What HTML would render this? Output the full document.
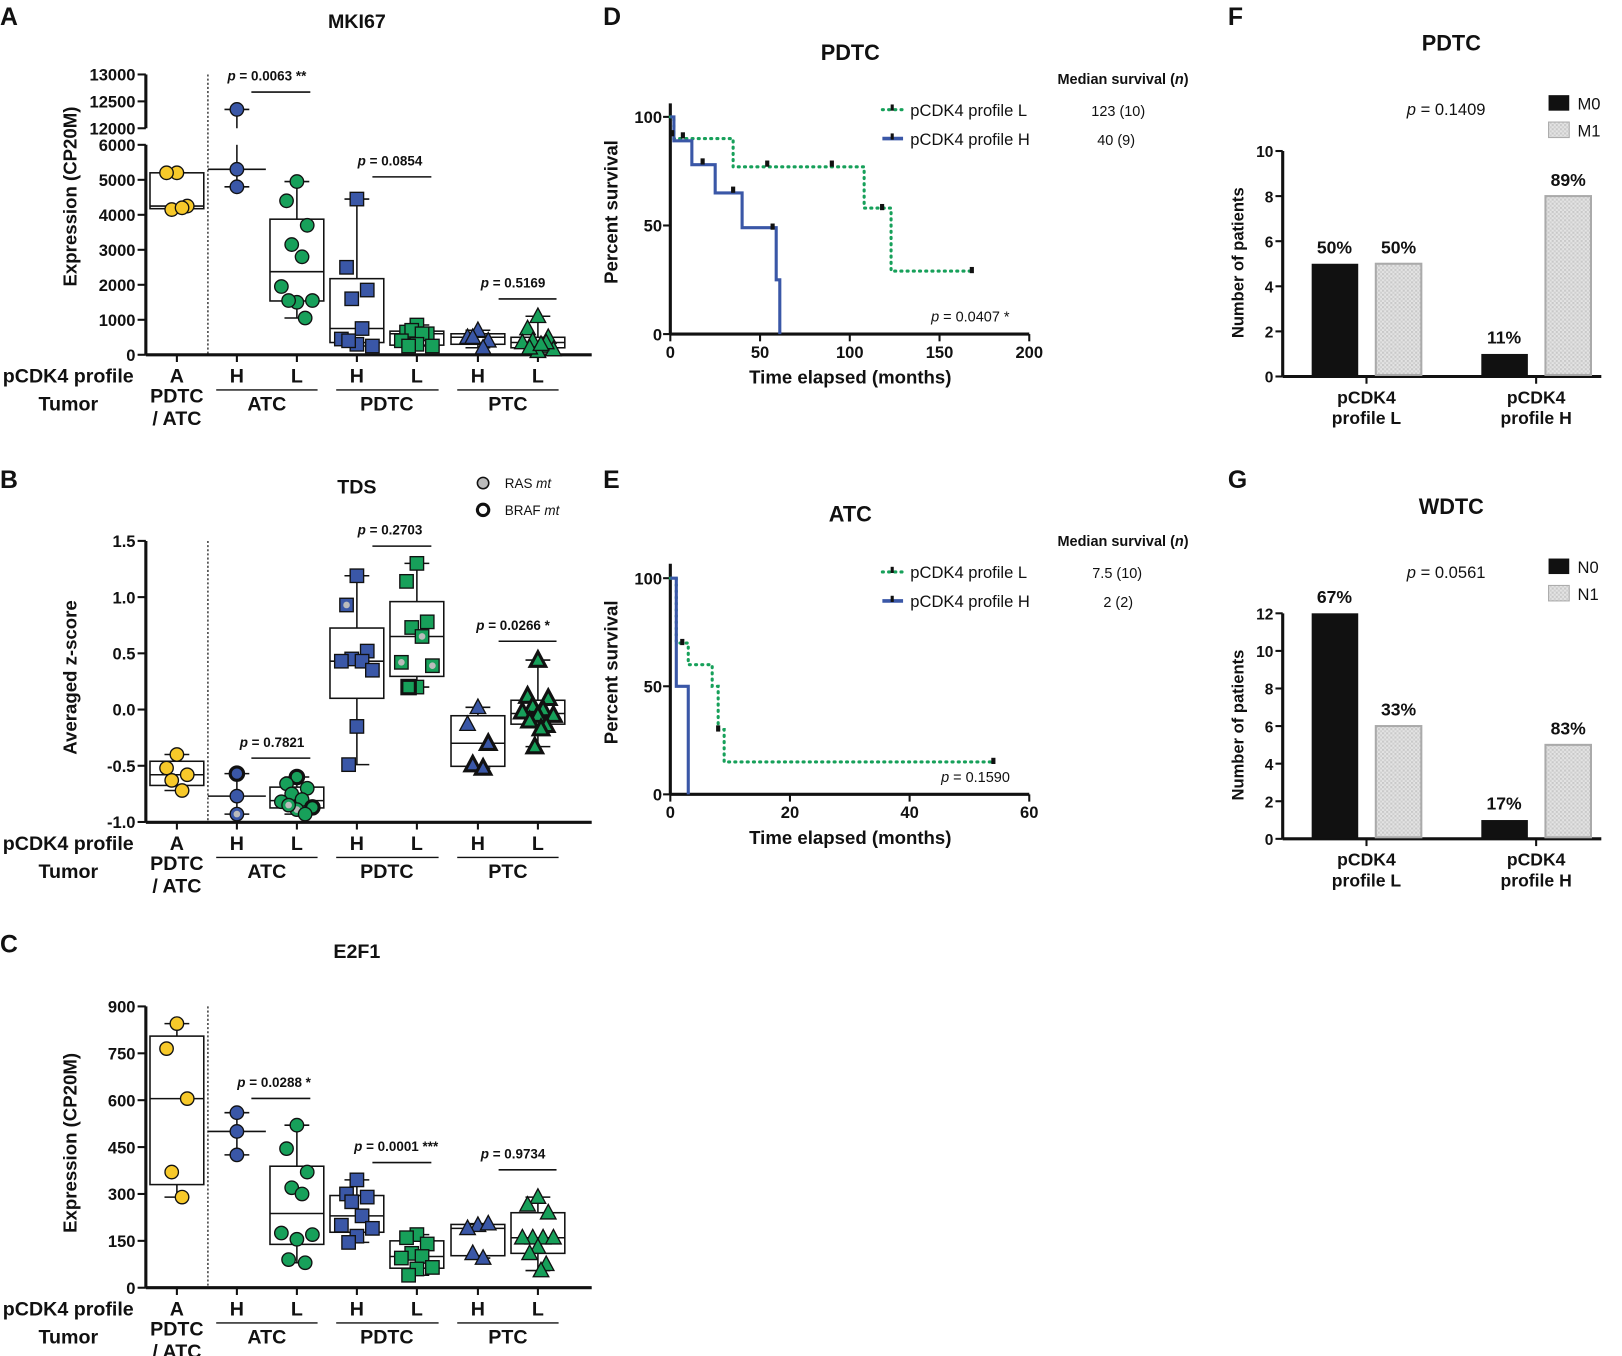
<!DOCTYPE html>
<html><head><meta charset="utf-8">
<style>
html,body{margin:0;padding:0;background:#fff;}
svg{display:block;font-family:"Liberation Sans",Arial,sans-serif;}
</style></head>
<body>
<svg id="fig" width="1622" height="1356" viewBox="0 0 1568 1311" preserveAspectRatio="none" xmlns="http://www.w3.org/2000/svg">
<defs>
<pattern id="hatch" width="4" height="4" patternUnits="userSpaceOnUse">
<rect width="4" height="4" fill="#e4e4e4"/><rect width="2" height="2" fill="#c8c8c8"/><rect x="2" y="2" width="2" height="2" fill="#cfcfcf"/>
</pattern>
</defs>
</svg>
<script>
// ---------- Data: box plots ----------
const groupLabels = ["A","H","L","H","L","H","L"];
const tumorLabels = ["ATC","PDTC","PTC"];
// MKI67
const mki_A = [5200,5200,4250,4150,4200];
const mki_ATC_H = [12350,5300,4800];
const mki_ATC_L = [4950,4400,3700,3150,2800,1950,1550,1500,1550,1050];
const mki_PDTC_H = [4450,2500,1850,1600,750,450,250,300,400];
const mki_PDTC_L = [850,650,600,700,600,400,250,300,250];
const mki_PTC_H = [700,500,400,500,200];
const mki_PTC_L = [1100,750,500,400,250,350,150,100,200,350,300];
const mki_ticksLow = [0,1000,2000,3000,4000,5000,6000];
const mki_ticksHigh = [12000,12500,13000];
// TDS
const tds_A = [-0.40,-0.52,-0.58,-0.63,-0.72];
const tds_ATC_H = [-0.57,-0.77,-0.93];
const tds_ATC_L = [-0.60,-0.66,-0.70,-0.75,-0.80,-0.82,-0.87,-0.89,-0.85,-0.93];
const tds_PDTC_H = [1.19,0.93,0.52,0.45,0.43,0.43,0.35,-0.15,-0.49];
const tds_PDTC_L = [1.30,1.14,0.78,0.73,0.65,0.42,0.39,0.20,0.20];
const tds_PTC_H = [0.02,-0.13,-0.30,-0.49,-0.52];
const tds_PTC_L = [0.44,0.12,0.10,0.03,0.0,-0.02,-0.05,-0.05,-0.10,-0.14,-0.17,-0.33];
const tds_mut_ATC_H = ["b","","r"];
const tds_mut_ATC_L = ["b","","","","","","b","r","r",""];
const tds_mut_PDTC_H = ["","r","","","","","","",""];
const tds_mut_PDTC_L = ["","","","","r","r","r","","b"];
const tds_mut_PTC_H = ["","","b","b","b"];
const tds_mut_PTC_L = ["b","b","b","b","b","b","b","b","b","b","b","b"];
const tds_ticks = [1.5,1.0,0.5,0.0,-0.5,-1.0];
// E2F1
const e2f_A = [845,765,605,370,290];
const e2f_ATC_H = [560,500,425];
const e2f_ATC_L = [520,445,370,320,300,175,170,155,90,80];
const e2f_PDTC_H = [345,300,290,275,230,200,190,165,145];
const e2f_PDTC_L = [170,160,140,110,100,95,65,60,40];
const e2f_PTC_H = [200,190,205,110,95];
const e2f_PTC_L = [290,265,240,160,160,160,160,130,110,75,55];
const e2f_ticks = [0,150,300,450,600,750,900];
// ---------- Data: survival ----------
const dL_t = [0,2,35,108,123]; const dL_s = [100,90,77,58,29]; const dL_end = 168;
const dL_ct = [7,54,90,118,168]; const dL_cs = [91,78,78,58,29];
const dH_t = [0,2,12,25,40,59,61]; const dH_s = [100,89,78,65,49,25,0]; const dH_end = 61;
const dH_ct = [1,18,35,57]; const dH_cs = [92,79,66,49];
const d_xticks = [0,50,100,150,200]; const d_yticks = [0,50,100];
const eL_t = [0,1,3,7,8,9]; const eL_s = [100,70,60,50,30,15]; const eL_end = 54;
const eL_ct = [2,8,54]; const eL_cs = [70,30,15];
const eH_t = [0,1,3]; const eH_s = [100,50,0]; const eH_end = 3;
const e_xticks = [0,20,40,60]; const e_yticks = [0,50,100];
// ---------- Data: bars ----------
const f_m0 = [5,1]; const f_m1 = [5,8]; const f_pct0 = ["50%","11%"]; const f_pct1 = ["50%","89%"];
const f_ticks = [0,2,4,6,8,10];
const g_n0 = [12,1]; const g_n1 = [6,5]; const g_pct0 = ["67%","17%"]; const g_pct1 = ["33%","83%"];
const g_ticks = [0,2,4,6,8,10,12];

// ---------- helpers ----------
const svg = document.getElementById('fig');
const NS = "http://www.w3.org/2000/svg";
function el(tag, attrs, parent, name, inter) {
  const e = document.createElementNS(NS, tag);
  for (const k in attrs) e.setAttribute(k, attrs[k]);
  
  
  (parent || svg).appendChild(e);
  return e;
}
function txt(x, y, s, size, opts, name) {
  opts = opts || {};
  const t = el('text', {x: x, y: y, 'font-size': size, 'text-anchor': opts.anchor || 'middle',
    'font-weight': opts.bold === false ? 'normal' : 'bold', fill: '#111'}, opts.parent, name || 'label');
  if (opts.rot) t.setAttribute('transform', 'rotate(-90 ' + x + ' ' + y + ')');
  if (opts.html) t.innerHTML = s; else t.textContent = s;
  return t;
}
function line(x1, y1, x2, y2, w, name, extra) {
  const a = {x1: x1, y1: y1, x2: x2, y2: y2, stroke: '#111', 'stroke-width': w || 1.5};
  if (extra) for (const k in extra) a[k] = extra[k];
  return el('line', a, null, name || 'line');
}
function quant(arr, q) {
  const s = arr.slice().sort((a, b) => a - b);
  const n = s.length;
  let p = (n + 1) * q - 1;
  if (p < 0) p = 0; if (p > n - 1) p = n - 1;
  const lo = Math.floor(p), hi = Math.ceil(p);
  return s[lo] + (s[hi] - s[lo]) * (p - lo);
}
const YEL = '#f7c92a', BLU = '#3a57a7', GRN = '#17a05a';
const xs = [171, 229, 287, 345, 403, 462, 520];
const cols = [YEL, BLU, GRN, BLU, GRN, BLU, GRN];
const shapes = ['c', 'c', 'c', 's', 's', 't', 't'];
const jit = [0, -10, 10, -5, 5, -15, 15, 0, -8, 8, 3, -3];

function marker(shape, x, y, fill, mut, name) {
  const sw = mut === 'b' ? 3 : 1.3;
  let m;
  if (shape === 'c') m = el('circle', {cx: x, cy: y, r: 6.5, fill: fill, stroke: '#111', 'stroke-width': sw}, null, name);
  else if (shape === 's') m = el('rect', {x: x - 6.5, y: y - 6.5, width: 13, height: 13, fill: fill, stroke: '#111', 'stroke-width': sw}, null, name);
  else m = el('polygon', {points: (x) + ',' + (y - 8) + ' ' + (x - 7.5) + ',' + (y + 6) + ' ' + (x + 7.5) + ',' + (y + 6), fill: fill, stroke: '#111', 'stroke-width': sw}, null, name);
  if (mut === 'r') el('circle', {cx: x, cy: y, r: 3.2, fill: '#bbb'}, null, 'ras-dot');
}

function boxPanel(groups, muts, yf, breakInfo) {
  groups.forEach((g, i) => {
    const x = xs[i];
    const mn = Math.min(...g), mx = Math.max(...g);
    const med = quant(g, 0.5), q1 = quant(g, 0.25), q3 = quant(g, 0.75);
    if (breakInfo && mx > breakInfo.hiV && mn < breakInfo.loV) {
      line(x, yf(mn), x, breakInfo.loY, 1.5, 'whisker');
      line(x, breakInfo.hiY, x, yf(mx), 1.5, 'whisker');
    } else line(x, yf(mn), x, yf(mx), 1.5, 'whisker');
    line(x - 12, yf(mn), x + 12, yf(mn), 1.5, 'whisker-cap-min');
    line(x - 12, yf(mx), x + 12, yf(mx), 1.5, 'whisker-cap-max');
    if (g.length > 3) {
      el('rect', {x: x - 26, y: yf(q3), width: 52, height: yf(q1) - yf(q3), fill: '#fff', stroke: '#111', 'stroke-width': 1.5}, null, 'box-' + i);
      line(x - 26, yf(med), x + 26, yf(med), 1.5, 'median-line');
    } else {
      line(x - 28, yf(med), x + 28, yf(med), 1.5, 'median-line');
    }
    g.forEach((v, j) => {
      const dx = g.length > 3 ? jit[j % jit.length] : 0;
      marker(shapes[i], x + dx, yf(v), cols[i], muts ? (muts[i] ? muts[i][j] : '') : '', 'data-point');
    });
  });
}

function catAxis(y0, ax) {
  line(141, y0, 572, y0, 3, 'x-axis');
  xs.forEach((x, i) => {
    line(x, y0, x, y0 + 7, 2, 'x-tick');
    txt(x, y0 + 27, groupLabels[i], 19, {}, 'x-tick-label');
  });
  txt(66, y0 + 27, 'pCDK4 profile', 19, {}, 'profile-row-label');
  txt(66, y0 + 54, 'Tumor', 19, {}, 'tumor-row-label');
  txt(171, y0 + 46, 'PDTC', 19, {}, 'tumor-label-a');
  txt(171, y0 + 68, '/ ATC', 19, {}, 'tumor-label-a2');
  [[209, 307, 258], [325, 424, 374], [442, 540, 491]].forEach((s, i) => {
    line(s[0], y0 + 34, s[1], y0 + 34, 1.3, 'group-underline');
    txt(s[2], y0 + 54, tumorLabels[i], 19, {}, 'tumor-group-label');
  });
  line(201, ax, 201, y0, 1.2, 'separator', {'stroke-dasharray': '2,2'});
}
function pval(x, y, label, x1, x2) {
  txt(x, y, label, 13, {html: true}, 'p-value-label');
  line(x1, y + 11, x2, y + 11, 1.5, 'p-value-bar');
}

// ---------- Panel A ----------
txt(0, 24, 'A', 24, {anchor: 'start'}, 'panel-label-a');
txt(345, 27, 'MKI67', 19, {}, 'chart-title-mki67');
function yA(v) { return v <= 6000 ? 343 - v * 0.03383 : 124 - (v - 12000) * 0.052; }
line(141, 140, 141, 343, 3, 'y-axis-lower');
line(141, 72, 141, 124, 3, 'y-axis-upper');
mki_ticksLow.concat(mki_ticksHigh).forEach(v => {
  line(133, yA(v), 141, yA(v), 2, 'y-tick');
  txt(131, yA(v) + 6, String(v), 16, {anchor: 'end'}, 'y-tick-label');
});
txt(74, 190, 'Expression (CP20M)', 18, {rot: true}, 'y-axis-title');
catAxis(343, 72);
boxPanel([mki_A, mki_ATC_H, mki_ATC_L, mki_PDTC_H, mki_PDTC_L, mki_PTC_H, mki_PTC_L], null, yA, {loV: 6000, hiV: 12000, loY: 140, hiY: 124});
pval(258, 78, '<tspan font-style="italic">p</tspan> = 0.0063 **', 243, 300);
pval(377, 160, '<tspan font-style="italic">p</tspan> = 0.0854', 360, 417);
pval(496, 278, '<tspan font-style="italic">p</tspan> = 0.5169', 482, 538);

// ---------- Panel B ----------
txt(0, 472, 'B', 24, {anchor: 'start'}, 'panel-label-b');
txt(345, 477, 'TDS', 19, {}, 'chart-title-tds');
function yB(v) { return 686 - v * 108.7; }
line(141, 523, 141, 795, 3, 'y-axis');
tds_ticks.forEach(v => {
  line(133, yB(v), 141, yB(v), 2, 'y-tick');
  txt(131, yB(v) + 6, v.toFixed(1), 16, {anchor: 'end'}, 'y-tick-label');
});
txt(74, 655, 'Averaged z-score', 18, {rot: true}, 'y-axis-title');
catAxis(795, 523);
boxPanel([tds_A, tds_ATC_H, tds_ATC_L, tds_PDTC_H, tds_PDTC_L, tds_PTC_H, tds_PTC_L],
  [null, tds_mut_ATC_H, tds_mut_ATC_L, tds_mut_PDTC_H, tds_mut_PDTC_L, tds_mut_PTC_H, tds_mut_PTC_L], yB, null);
pval(377, 517, '<tspan font-style="italic">p</tspan> = 0.2703', 360, 417);
pval(496, 609, '<tspan font-style="italic">p</tspan> = 0.0266 *', 482, 538);
pval(263, 722, '<tspan font-style="italic">p</tspan> = 0.7821', 243, 300);
el('circle', {cx: 467, cy: 467, r: 5.5, fill: '#bbb', stroke: '#111', 'stroke-width': 1.5}, null, 'legend-ras-marker');
txt(488, 472, 'RAS <tspan font-style="italic">mt</tspan>', 13, {anchor: 'start', bold: false, html: true}, 'legend-ras-label');
el('circle', {cx: 467, cy: 493, r: 5.5, fill: '#fff', stroke: '#111', 'stroke-width': 3}, null, 'legend-braf-marker');
txt(488, 498, 'BRAF <tspan font-style="italic">mt</tspan>', 13, {anchor: 'start', bold: false, html: true}, 'legend-braf-label');

// ---------- Panel C ----------
txt(0, 921, 'C', 24, {anchor: 'start'}, 'panel-label-c');
txt(345, 926, 'E2F1', 19, {}, 'chart-title-e2f1');
function yC(v) { return 1245 - v * 0.3022; }
line(141, 973, 141, 1245, 3, 'y-axis');
e2f_ticks.forEach(v => {
  line(133, yC(v), 141, yC(v), 2, 'y-tick');
  txt(131, yC(v) + 6, String(v), 16, {anchor: 'end'}, 'y-tick-label');
});
txt(74, 1105, 'Expression (CP20M)', 18, {rot: true}, 'y-axis-title');
catAxis(1245, 973);
boxPanel([e2f_A, e2f_ATC_H, e2f_ATC_L, e2f_PDTC_H, e2f_PDTC_L, e2f_PTC_H, e2f_PTC_L], null, yC, null);
pval(265, 1051, '<tspan font-style="italic">p</tspan> = 0.0288 *', 243, 300);
pval(383, 1113, '<tspan font-style="italic">p</tspan> = 0.0001 ***', 360, 417);
pval(496, 1120, '<tspan font-style="italic">p</tspan> = 0.9734', 482, 538);

// ---------- Survival ----------
function survPanel(o) {
  const xf = t => 648 + t * o.sx, yf = s => o.y0 - s * o.sy;
  txt(583, o.letterY, o.letter, 24, {anchor: 'start'}, 'panel-label-' + o.letter.toLowerCase());
  txt(822, o.titleY, o.title, 21, {}, 'chart-title');
  line(648, o.y0 - 223, 648, o.y0, 3, 'y-axis');
  line(648, o.y0, 995, o.y0, 3, 'x-axis');
  o.yt.forEach(v => { line(641, yf(v), 648, yf(v), 2, 'y-tick'); txt(640, yf(v) + 6, String(v), 16, {anchor: 'end'}, 'y-tick-label'); });
  o.xt.forEach(v => { line(xf(v), o.y0, xf(v), o.y0 + 7, 2, 'x-tick'); txt(xf(v), o.y0 + 23, String(v), 16, {}, 'x-tick-label'); });
  txt(597, o.y0 - 118, 'Percent survival', 18, {rot: true}, 'y-axis-title');
  txt(822, o.y0 + 48, 'Time elapsed (months)', 18, {}, 'x-axis-title');
  function curve(t, s, end, ct, cs, col, dash, w, name) {
    let d = 'M' + xf(t[0]) + ' ' + yf(s[0]);
    for (let i = 1; i < t.length; i++) d += ' H' + xf(t[i]) + ' V' + yf(s[i]);
    d += ' H' + xf(end);
    const a = {d: d, fill: 'none', stroke: col, 'stroke-width': w};
    if (dash) { a['stroke-dasharray'] = '1,5'; a['stroke-linecap'] = 'round'; }
    el('path', a, null, name);
    ct.forEach((c, i) => el('rect', {x: xf(c) - 2, y: yf(cs[i]) - 4, width: 4, height: 6, fill: '#111'}, null, 'censor-mark'));
  }
  curve(o.Lt, o.Ls, o.Lend, o.Lct, o.Lcs, GRN, true, 3, 'survival-curve-l');
  curve(o.Ht, o.Hs, o.Hend, o.Hct, o.Hcs, BLU, false, 3, 'survival-curve-h');
  txt(1149, o.legY, 'Median survival (<tspan font-style="italic">n</tspan>)', 14, {anchor: 'end', html: true}, 'legend-title');
  el('line', {x1: 853, y1: o.legY + 25, x2: 873, y2: o.legY + 25, stroke: GRN, 'stroke-width': 3, 'stroke-dasharray': '1,5', 'stroke-linecap': 'round'}, null, 'legend-l-line');
  el('rect', {x: 861, y: o.legY + 20, width: 3, height: 6, fill: '#111'}, null, 'legend-l-tick');
  txt(880, o.legY + 31, 'pCDK4 profile L', 16, {anchor: 'start', bold: false}, 'legend-l-label');
  txt(o.mLx, o.legY + 31, o.mL, 14, {bold: false}, 'legend-l-median');
  line(853, o.legY + 53, 873, o.legY + 53, 3.5, 'legend-h-line', {stroke: BLU});
  el('rect', {x: 861, y: o.legY + 48, width: 3, height: 6, fill: '#111'}, null, 'legend-h-tick');
  txt(880, o.legY + 59, 'pCDK4 profile H', 16, {anchor: 'start', bold: false}, 'legend-h-label');
  txt(o.mHx, o.legY + 59, o.mH, 14, {bold: false}, 'legend-h-median');
  txt(o.px, o.y0 - 12, o.p, 14, {bold: false, html: true}, 'p-value-label');
}
survPanel({letter: 'D', letterY: 24, title: 'PDTC', titleY: 58, y0: 323, sx: 347 / 200, sy: 2.1,
  xt: d_xticks, yt: d_yticks, Lt: dL_t, Ls: dL_s, Lend: dL_end, Lct: dL_ct, Lcs: dL_cs,
  Ht: dH_t, Hs: dH_s, Hend: dH_end, Hct: dH_ct, Hcs: dH_cs, legY: 81, mL: '123 (10)', mLx: 1081, mH: '40 (9)', mHx: 1079,
  p: '<tspan font-style="italic">p</tspan> = 0.0407 *', px: 938});
survPanel({letter: 'E', letterY: 472, title: 'ATC', titleY: 504, y0: 768, sx: 347 / 60, sy: 2.09,
  xt: e_xticks, yt: e_yticks, Lt: eL_t, Ls: eL_s, Lend: eL_end, Lct: eL_ct, Lcs: eL_cs,
  Ht: eH_t, Hs: eH_s, Hend: eH_end, Hct: [], Hcs: [], legY: 528, mL: '7.5 (10)', mLx: 1080, mH: '2 (2)', mHx: 1081,
  p: '<tspan font-style="italic">p</tspan> = 0.1590', px: 943});

// ---------- Bars ----------
function barPanel(o) {
  const yf = v => o.y0 - v * o.sy;
  txt(1187, o.letterY, o.letter, 24, {anchor: 'start'}, 'panel-label-' + o.letter.toLowerCase());
  txt(1403, o.titleY, o.title, 21, {}, 'chart-title');
  txt(1398, o.titleY + 62, '<tspan font-style="italic">p</tspan> = ' + o.p, 16, {bold: false, html: true}, 'p-value-label');
  el('rect', {x: 1497, y: o.titleY + 43, width: 20, height: 15, fill: '#111'}, null, 'legend-swatch-0');
  txt(1525, o.titleY + 57, o.k0, 16, {anchor: 'start', bold: false}, 'legend-label-0');
  el('rect', {x: 1497, y: o.titleY + 69, width: 20, height: 15, fill: 'url(#hatch)', stroke: '#aaa'}, null, 'legend-swatch-1');
  txt(1525, o.titleY + 83, o.k1, 16, {anchor: 'start', bold: false}, 'legend-label-1');
  line(1240, yf(o.ticks[o.ticks.length - 1]), 1240, o.y0, 3, 'y-axis');
  line(1240, o.y0, 1548, o.y0, 3, 'x-axis');
  o.ticks.forEach(v => { line(1233, yf(v), 1240, yf(v), 2, 'y-tick'); txt(1231, yf(v) + 6, String(v), 15, {anchor: 'end'}, 'y-tick-label'); });
  txt(1202, o.y0 - 110, 'Number of patients', 16, {rot: true}, 'y-axis-title');
  const gx = [1268, 1432];
  ['L', 'H'].forEach((g, i) => {
    el('rect', {x: gx[i], y: yf(o.v0[i]), width: 45, height: o.y0 - yf(o.v0[i]), fill: '#111'}, null, 'bar-' + o.k0 + '-' + g);
    el('rect', {x: gx[i] + 62, y: yf(o.v1[i]), width: 44, height: o.y0 - yf(o.v1[i]) - 1.5, fill: 'url(#hatch)', stroke: '#aaa', 'stroke-width': 2}, null, 'bar-' + o.k1 + '-' + g);
    txt(gx[i] + 22, yf(o.v0[i]) - 10, o.p0[i], 17, {}, 'bar-pct-label');
    txt(gx[i] + 84, yf(o.v1[i]) - 10, o.p1[i], 17, {}, 'bar-pct-label');
    line(gx[i] + 53, o.y0, gx[i] + 53, o.y0 + 7, 2, 'x-tick');
    txt(gx[i] + 53, o.y0 + 26, 'pCDK4', 17, {}, 'x-group-label');
    txt(gx[i] + 53, o.y0 + 46, 'profile ' + g, 17, {}, 'x-group-label');
  });
}
barPanel({letter: 'F', letterY: 24, title: 'PDTC', titleY: 49, p: '0.1409', k0: 'M0', k1: 'M1', y0: 364, sy: 21.8,
  ticks: f_ticks, v0: f_m0, v1: f_m1, p0: f_pct0, p1: f_pct1});
barPanel({letter: 'G', letterY: 472, title: 'WDTC', titleY: 497, p: '0.0561', k0: 'N0', k1: 'N1', y0: 811, sy: 18.17,
  ticks: g_ticks, v0: g_n0, v1: g_n1, p0: g_pct0, p1: g_pct1});
</script>
</body></html>
